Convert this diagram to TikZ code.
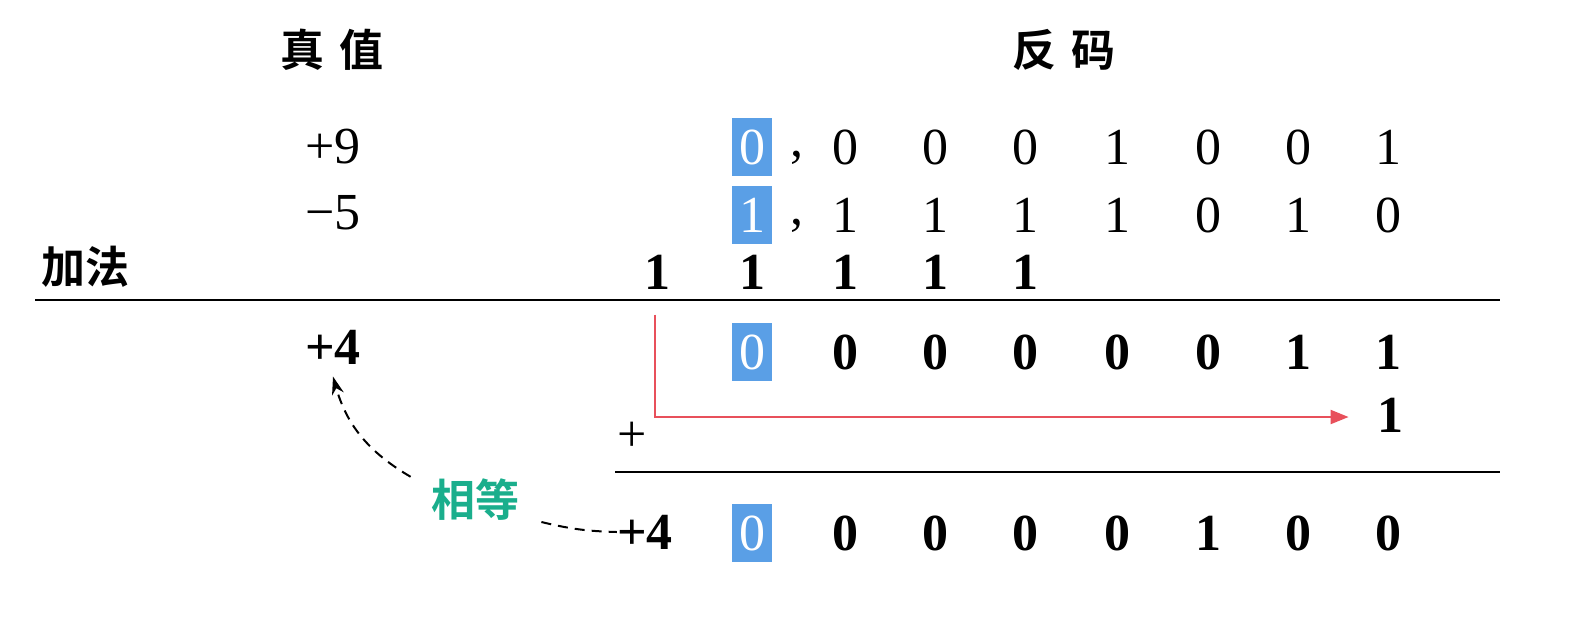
\documentclass[tikz,border=0pt]{standalone}
\usepackage{fontspec}
\setmainfont{Liberation Serif}
\newfontfamily\cjk[BoldFont={Noto Sans CJK SC Bold}]{Noto Sans CJK SC}
\usetikzlibrary{arrows.meta}
\definecolor{signblue}{HTML}{5A9FE6}
\definecolor{carryred}{HTML}{E8505B}
\definecolor{eqgreen}{HTML}{1AAE8C}
\begin{document}
\begin{tikzpicture}[x=0.5pt,y=-0.5pt,
  dig/.style={inner sep=0pt,font=\fontsize{26}{30}\selectfont},
  bdig/.style={inner sep=0pt,font=\fontsize{26}{30}\selectfont\bfseries},
  signbox/.style={fill=signblue,text=white,minimum width=20pt,minimum height=29pt,inner sep=0pt,font=\fontsize{26}{30}\selectfont},
  head/.style={inner sep=0pt,font=\fontsize{22}{26}\selectfont\cjk\bfseries},
  rule/.style={line width=1.4pt},
  redarrow/.style={draw=carryred,line width=1pt,-{Triangle[length=9pt,width=7pt]}},
  dashline/.style={dashed,line width=1pt,dash pattern=on 5pt off 3.5pt}]
\useasboundingbox (0,0) rectangle (1596,618);
% headers
\node[head] (hz) at (332,50) {真\,\,值};
\node[head] (hf) at (1064,50) {反\,\,码};
\node[head] (jf) at (85,267) {加法};
% true values
\node[dig] (p9) at (333,147) {+9};
\node[dig] (m5) at (333,213) {−5};
% row 1
\node[signbox] (s1) at (752,147) {0};
\node[dig] (cm1) at (797,158) {,};
\foreach \x/\d [count=\i] in {845/0,935/0,1025/0,1117/1,1208/0,1298/0,1388/1}
  \node[dig] (a\i) at (\x,147) {\d};
% row 2
\node[signbox] (s2) at (752,215) {1};
\node[dig] (cm2) at (797,226) {,};
\foreach \x/\d [count=\i] in {845/1,935/1,1025/1,1117/1,1208/0,1298/1,1388/0}
  \node[dig] (b\i) at (\x,215) {\d};
% carries
\foreach \x [count=\i] in {657,752,845,935,1025}
  \node[bdig] (c\i) at (\x,272) {1};
\draw[rule] (35,300) -- (1500,300);
% result row
\node[bdig] (p4a) at (333,347) {+4};
\node[signbox] (s3) at (752,352) {0};
\foreach \x/\d [count=\i] in {845/0,935/0,1025/0,1117/0,1208/0,1298/1,1388/1}
  \node[bdig] (r\i) at (\x,352) {\d};
% end-around carry
\node[bdig] (ec) at (1390,415) {1};
\node[dig] (plus) at (632,437) {+};
\draw[redarrow] ([shift={(-2,25)}]c1.south) |- ([shift={(-28,2)}]ec.west);
\draw[rule] (615,472) -- (1500,472);
% final row
\node[bdig] (p4b) at (645,532) {+4};
\node[signbox] (s4) at (752,533) {0};
\foreach \x/\d [count=\i] in {845/0,935/0,1025/0,1117/0,1208/1,1298/0,1388/0}
  \node[bdig] (f\i) at (\x,533) {\d};
% equal
\node[inner sep=0pt,font=\fontsize{22}{26}\selectfont\cjk\bfseries,text=eqgreen] (eq) at (475,500) {相等};
\draw[dashline] ([shift={(22,22)}]eq.east) to[bend right=6] (p4b.west);
\draw[dashline,-{Stealth[length=9pt,width=6pt]}] ([shift={(-20,-2)}]eq.north west) to[bend left=22] ([shift={(0,12)}]p4a.south);
\end{tikzpicture}
\end{document}
